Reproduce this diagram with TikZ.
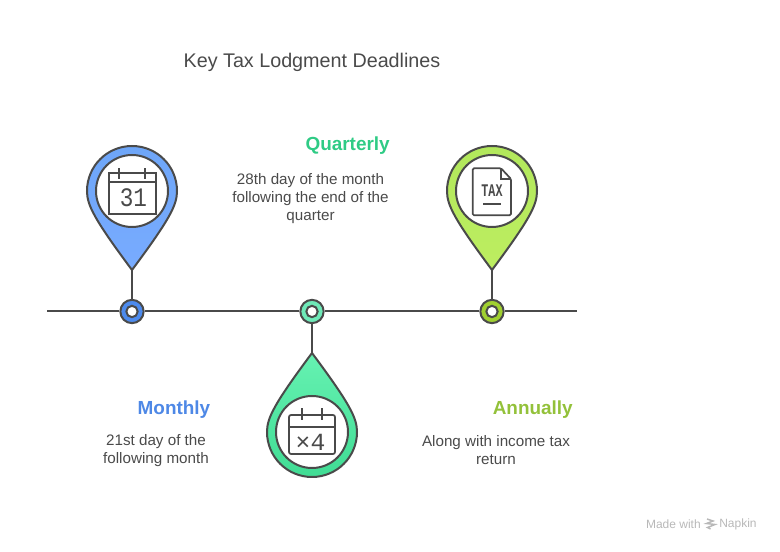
\documentclass[tikz,border=0pt]{standalone}
\usepackage{fontspec}
\setmainfont{Liberation Sans}
\setmonofont{Liberation Mono}
\usetikzlibrary{calc}
\definecolor{inkgray}{HTML}{4A4A4A}
\definecolor{bluetop}{HTML}{6EA6F8}\definecolor{bluelow}{HTML}{78ABFF}\definecolor{bluedot}{HTML}{4D8BEE}\definecolor{bluetext}{HTML}{4E88E6}
\definecolor{greentop}{HTML}{66F2B2}\definecolor{greenlow}{HTML}{40DC94}\definecolor{greendot}{HTML}{6EE9B8}\definecolor{greentext}{HTML}{2FCB85}
\definecolor{limetop}{HTML}{B2E85C}\definecolor{limelow}{HTML}{BDEE60}\definecolor{limedot}{HTML}{A0D030}\definecolor{limetext}{HTML}{93C13A}
\newcommand{\pinpath}{(0,-79) .. controls (38,-28) and (45,-14) .. (45,0) arc (0:180:45) .. controls (-45,-14) and (-38,-28) .. cycle}
\tikzset{
  line/.style={draw=inkgray, line width=1.5pt},
  icon/.style={draw=inkgray, line width=1.3pt},
  dotnode/.style={circle, draw=inkgray, line width=1.5pt, minimum size=17.5pt, inner sep=0pt},
  holenode/.style={circle, draw=inkgray, fill=white, line width=1.5pt, minimum size=8.5pt, inner sep=0pt},
  ringnode/.style={circle, draw=inkgray, fill=white, line width=1.5pt, minimum size=54pt, inner sep=0pt},
  headnode/.style={font=\fontsize{14.2}{18}\selectfont\bfseries, inner sep=0pt},
  bodynode/.style={font=\fontsize{11.4}{13.5}\selectfont, text=inkgray, align=center},
  icontext/.style={text=inkgray, inner sep=0pt},
  footnode/.style={font=\fontsize{9}{10}\selectfont, text=black!28, inner sep=0pt}
}
\begin{document}
\begin{tikzpicture}[x=0.75pt,y=0.75pt]
\useasboundingbox (0,0) rectangle (780,552);
\node[font=\fontsize{14.8}{18}\selectfont, text=inkgray] (title) at (312,490) {Key Tax Lodgment Deadlines};

% timeline
\coordinate (startline) at (47,240.5);
\coordinate (endline) at (577,240.5);
\node[dotnode, fill=bluedot] (dotmonth) at (132,240.5) {};
\node[dotnode, fill=greendot] (dotquarter) at (312,240.5) {};
\node[dotnode, fill=limedot] (dotyear) at (492,240.5) {};
\draw[line] (startline) -- (dotmonth);
\draw[line] (dotmonth) -- (dotquarter);
\draw[line] (dotquarter) -- (dotyear);
\draw[line] (dotyear) -- (endline);
\node[holenode] (holemonth) at (dotmonth) {};
\node[holenode] (holequarter) at (dotquarter) {};
\node[holenode] (holeyear) at (dotyear) {};

% pins
\coordinate (tipmonth) at (132,282);
\coordinate (tipquarter) at (312,199);
\coordinate (tipyear) at (492,282);
\draw[line] (tipmonth) -- (dotmonth);
\draw[line] (tipquarter) -- (dotquarter);
\draw[line] (tipyear) -- (dotyear);
\draw[line, top color=bluetop, bottom color=bluelow, shift={(132,361)}] \pinpath;
\draw[line, top color=greentop, bottom color=greenlow, shift={(312,120)}, yscale=-1] \pinpath;
\draw[line, top color=limetop, bottom color=limelow, shift={(492,361)}] \pinpath;
\node[ringnode] (ringmonth) at (132,361) {};
\node[ringnode] (ringquarter) at (312,120) {};
\node[ringnode] (ringyear) at (492,361) {};

% calendar 31
\draw[icon] (109,337.7) rectangle (155.7,379.3);
\draw[icon] (109,370.3) -- (155.7,370.3);
\draw[icon] (119,373) -- (119,384);
\draw[icon] (145.3,373) -- (145.3,384);
\node[icontext, font=\fontsize{20}{20}\selectfont\ttfamily] (daynum) at (133.5,354) {\scalebox{.85}[1]{31}};

% calendar x4
\draw[icon, rounded corners=1.5pt] (289,98) rectangle (335,137);
\draw[icon] (289,125.3) -- (335,125.3);
\draw[icon] (301.7,132) -- (301.7,144);
\draw[icon] (322.3,132) -- (322.3,144);
\node[icontext, font=\fontsize{18.5}{18.5}\selectfont\ttfamily] (timesfour) at (310.5,110) {×4};

% tax sheet
\draw[icon, rounded corners=1pt] (501,383.7) -- (472.7,383.7) -- (472.7,336.7) -- (511,336.7) -- (511,373) -- cycle;
\draw[icon] (501,383.7) -- (501,373) -- (511,373);
\node[icontext, font=\fontsize{13.3}{13.3}\selectfont\ttfamily\bfseries] (taxword) at (492,361.3) {\scalebox{.66}[1]{TAX}};
\draw[icon] (483,348.3) -- (501,348.3);

% labels
\node[headnode, text=greentext, anchor=east] (headquarter) at (390,406) {Quarterly};
\node[bodynode] (bodyquarter) at (310.5,353.5) {28th day of the month\\following the end of the\\quarter};
\node[headnode, text=bluetext, anchor=east] (headmonth) at (210.5,142) {Monthly};
\node[bodynode] (bodymonth) at (156,101.5) {21st day of the\\following month};
\node[headnode, text=limetext, anchor=east] (headyear) at (573,142) {Annually};
\node[bodynode] (bodyyear) at (496,101.5) {Along with income tax\\return};

% footer
\node[footnode, anchor=east] (madewith) at (701,28) {Made with};
\node[footnode, anchor=west] (napkin) at (719,28) {Napkin};
\draw[black!28, line width=1.1pt] (707,33) -- (713,31) -- (706.5,28.5) -- (715,27.5) -- (707.5,24.5) -- (710.5,23);
\end{tikzpicture}
\end{document}
